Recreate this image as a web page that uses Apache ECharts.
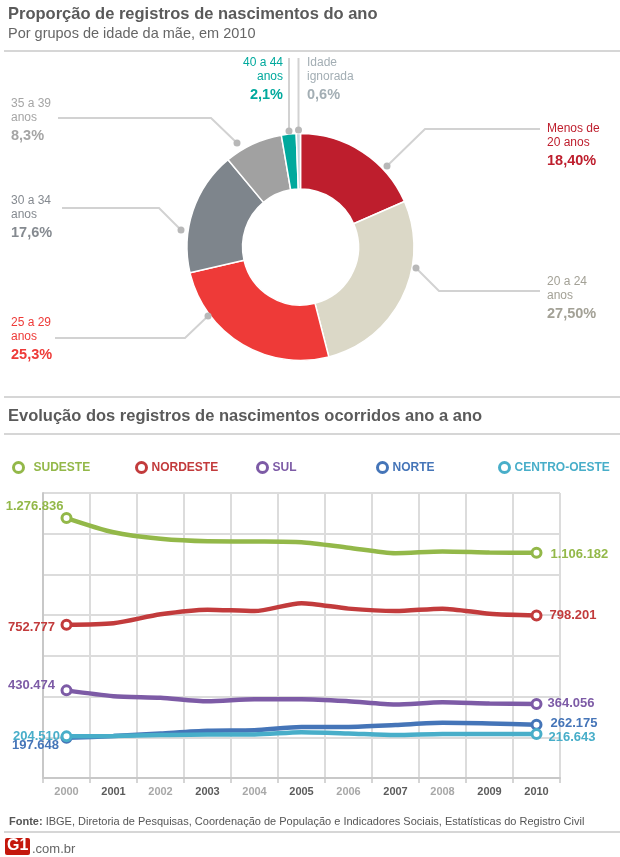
<!DOCTYPE html>
<html><head><meta charset="utf-8">
<script src="https://cdn.jsdelivr.net/npm/echarts@6/dist/echarts.min.js"></script>
<style>html,body{margin:0;padding:0;background:#fff}#c{width:620px;height:857px}</style>
</head><body><div id="c"></div>
<script>
// ---------- DATA ----------
const pieCategories = ['Menos de\n20 anos', '20 a 24\nanos', '25 a 29\nanos', '30 a 34\nanos', '35 a 39\nanos', '40 a 44\nanos', 'Idade\nignorada'];
const pieValues = [18.4, 27.5, 25.3, 17.6, 8.3, 2.1, 0.6];
const pieValueLabels = ['18,40%', '27,50%', '25,3%', '17,6%', '8,3%', '2,1%', '0,6%'];

const years = ['2000', '2001', '2002', '2003', '2004', '2005', '2006', '2007', '2008', '2009', '2010'];
const seriesNames = ['SUDESTE', 'NORDESTE', 'SUL', 'NORTE', 'CENTRO-OESTE'];
const sudeste = [1276836, 1207000, 1175000, 1163000, 1162000, 1158000, 1131000, 1104000, 1113000, 1108000, 1106182];
const nordeste = [752777, 760000, 804000, 827000, 820000, 859000, 832000, 820000, 832000, 807000, 798201];
const sul = [430474, 402000, 394000, 377000, 387000, 387000, 377000, 361000, 372000, 366000, 364056];
const norte = [197648, 206000, 219000, 232000, 235000, 251000, 251000, 260000, 271000, 268000, 262175];
const centroOeste = [204510, 206000, 211000, 214000, 214000, 225000, 219000, 211000, 216000, 216000, 216643];

// ---------- STYLE ----------
const FONT = '"Liberation Sans", Arial, sans-serif';
const sliceColors = ['#be1e2d', '#dbd8c7', '#ee3a38', '#7e858c', '#a1a1a1', '#00a99d', '#c5d6de'];
const pieLabelColors = ['#be1e2d', '#a3a196', '#ee3a38', '#858a90', '#a5a5a5', '#00a99d', '#a3aeb4'];
const pieLayout = [
  { x: 547, y: 122, align: 'left', pts: [[387, 166], [425, 129], [540, 129]] },
  { x: 547, y: 275, align: 'left', pts: [[416, 268], [439, 291], [540, 291]] },
  { x: 11, y: 316, align: 'left', pts: [[208, 316], [185, 338], [55, 338]] },
  { x: 11, y: 194, align: 'left', pts: [[181, 230], [159, 208], [62, 208]] },
  { x: 11, y: 97, align: 'left', pts: [[237, 143], [211, 118], [58, 118]] },
  { x: 283, y: 56, align: 'right', pts: [[289, 131], [289, 95], [289, 58]] },
  { x: 307, y: 56, align: 'left', pts: [[298.5, 130], [298.5, 95], [298.5, 58]] }
];
const lineColors = ['#93b849', '#c23b3c', '#7d5ba6', '#4575b8', '#48aec9'];
const startOffsets = [[3, -12], [-5.5, 3], [-5.5, -5], [-1.5, 8], [-0.5, 0]];
const endOffsets = [[8, 1.5], [7, 0], [5, 0], [8, -1], [6, 3.5]];
const legendLefts = [7, 130, 251, 371, 493];
const legendPad = [5, 0, 0, 0, 0];

function fmt(v) { return String(v).replace(/\B(?=(\d{3})+(?!\d))/g, '.'); }

const chart = echarts.init(document.getElementById('c'));

const pieData = pieCategories.map((n, i) => ({
  name: n, value: pieValues[i],
  itemStyle: { color: sliceColors[i] },
  label: {
    formatter: n.split('\n').map(s => '{n|' + s + '}').join('\n') + '\n{v|' + pieValueLabels[i] + '}',
    rich: {
      n: { fontFamily: FONT, fontSize: 12, lineHeight: 14, color: pieLabelColors[i], align: pieLayout[i].align },
      v: { fontFamily: FONT, fontSize: 14.5, fontWeight: 'bold', lineHeight: 22, color: pieLabelColors[i], align: pieLayout[i].align }
    }
  }
}));

const allSeries = [sudeste, nordeste, sul, norte, centroOeste];
const lineSeries = allSeries.map((arr, s) => ({
  type: 'line', name: seriesNames[s], xAxisIndex: 0, yAxisIndex: 0,
  smooth: 0.25, color: lineColors[s],
  lineStyle: { color: lineColors[s], width: 4.5 },
  symbol: 'circle', symbolSize: 9, showAllSymbol: true,
  itemStyle: { color: '#fff', borderColor: lineColors[s], borderWidth: 3 },
  emphasis: { disabled: true },
  z: 3 + s,
  data: arr.map((v, i) => {
    const last = i === arr.length - 1;
    if (i !== 0 && !last) return { value: v, symbol: 'none' };
    const off = last ? endOffsets[s] : startOffsets[s];
    return {
      value: v,
      label: {
        show: true, position: last ? 'right' : 'left', distance: 0, offset: off,
        formatter: fmt(v), color: lineColors[s], fontFamily: FONT, fontWeight: 'bold', fontSize: 13
      }
    };
  })
}));

const dots = pieLayout.map(l => ({
  type: 'circle', shape: { cx: l.pts[0][0], cy: l.pts[0][1], r: 3.5 },
  style: { fill: '#b8b8b8' }, z: 10
}));

const sep = (y) => ({ type: 'rect', shape: { x: 4, y: y - 1, width: 616, height: 2 }, style: { fill: '#d6d6d6' } });

chart.setOption({
  animation: false,
  textStyle: { fontFamily: FONT },
  title: [
    { text: 'Proporção de registros de nascimentos do ano', left: 3, top: 1, textStyle: { fontFamily: FONT, fontSize: 16.5, fontWeight: 'bold', color: '#5a5a5a' } },
    { text: 'Por grupos de idade da mãe, em 2010', left: 3, top: 21, textStyle: { fontFamily: FONT, fontSize: 14.5, fontWeight: 'normal', color: '#666' } },
    { text: 'Evolução dos registros de nascimentos ocorridos ano a ano', left: 3, top: 403, textStyle: { fontFamily: FONT, fontSize: 16.5, fontWeight: 'bold', color: '#5a5a5a' } },
    { text: '{b|Fonte:} IBGE, Diretoria de Pesquisas, Coordenação de População e Indicadores Sociais, Estatísticas do Registro Civil', left: 4, top: 811,
      textStyle: { fontFamily: FONT, fontSize: 11, color: '#555', fontWeight: 'normal', rich: { b: { fontFamily: FONT, fontSize: 11, fontWeight: 'bold', color: '#555' } } } }
  ],
  legend: seriesNames.map((n, i) => ({
    data: [n], left: legendLefts[i], top: 456, icon: 'circle', itemWidth: 10, itemHeight: 10, selectedMode: false,
    itemStyle: { color: '#fff', borderColor: lineColors[i], borderWidth: 3 },
    textStyle: { color: lineColors[i], fontWeight: 'bold', fontSize: 12, fontFamily: FONT, padding: [0, 0, 0, legendPad[i]] }
  })),
  grid: [{ left: 43, right: 60, top: 493, bottom: 79, containLabel: false }],
  xAxis: [{
    type: 'category', data: years, boundaryGap: true,
    axisLine: { lineStyle: { color: '#c8c8c8', width: 2 } },
    axisTick: { show: true, length: 5, lineStyle: { color: '#c8c8c8', width: 1.5 } },
    axisLabel: { fontFamily: FONT, fontSize: 11, fontWeight: 'bold', margin: 8,
      color: (v, i) => (i % 2 === 0 && i !== 10) ? '#a8a8a8' : '#5c5c5c' },
    splitLine: { show: true, interval: 0, lineStyle: { color: '#dcdcdc', width: 2 } }
  }],
  yAxis: [{
    type: 'value', min: 0, max: 1400000, interval: 200000,
    axisLine: { show: true, lineStyle: { color: '#c8c8c8', width: 2 } },
    axisTick: { show: false }, axisLabel: { show: false },
    splitLine: { show: true, lineStyle: { color: '#dcdcdc', width: 2 } }
  }],
  series: [{
    type: 'pie', center: [300.5, 247], radius: [58, 113.5], startAngle: 90, clockwise: true,
    avoidLabelOverlap: false, silent: true,
    itemStyle: { borderColor: '#fff', borderWidth: 1.5 },
    label: { show: true, position: 'outside' },
    labelLine: { show: true, smooth: false, lineStyle: { color: '#d2d2d2', width: 2 } },
    labelLayout: function (p) {
      const l = pieLayout[p.dataIndex];
      return { x: l.x, y: l.y, align: l.align, verticalAlign: 'top', labelLinePoints: l.pts };
    },
    data: pieData
  }].concat(lineSeries),
  graphic: [
    sep(51), sep(397), sep(434), sep(832),
    { type: 'rect', left: 5, top: 838, shape: { width: 25, height: 17, r: 2 }, style: { fill: '#c4170c' } },
    { type: 'text', left: 7, top: 838, style: { text: 'G1', fill: '#fff', font: '900 16px ' + FONT }, z: 10 },
    { type: 'text', left: 32, top: 843, style: { text: '.com.br', fill: '#666', font: '13px ' + FONT } }
  ].concat(dots)
});
</script></body></html>
